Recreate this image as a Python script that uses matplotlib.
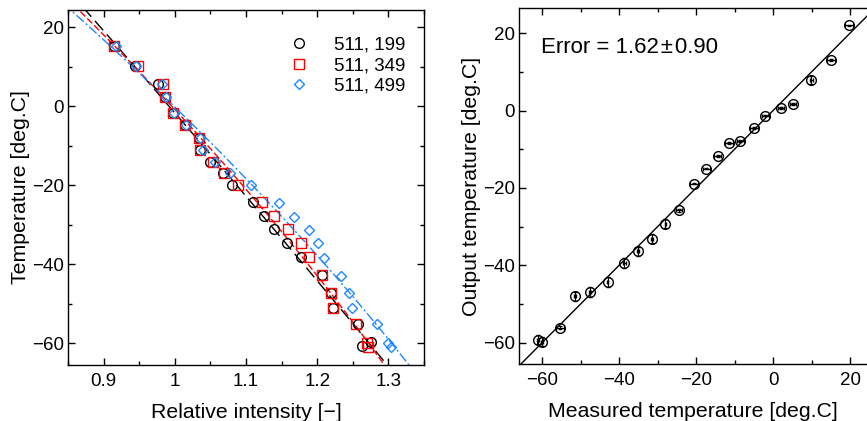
import numpy as np
import matplotlib.pyplot as plt
from matplotlib.ticker import MultipleLocator, FuncFormatter

plt.rcParams['font.family'] = ['Liberation Sans', 'DejaVu Sans']
plt.rcParams['font.size'] = 13.5

# left panel: temperature vs relative intensity
t_199 = [15.3, 10.3, 5.6, 2.3, -1.8, -4.7, -8.1, -11.1, -14.2, -17.0, -19.9,
         -24.1, -27.8, -31.1, -34.7, -38.1, -42.7, -47.3, -51.1, -55.1, -59.7, -60.6]
i_199 = [0.914, 0.944, 0.977, 0.986, 0.998, 1.015, 1.034, 1.035, 1.050, 1.067, 1.081,
         1.110, 1.125, 1.139, 1.157, 1.177, 1.207, 1.219, 1.222, 1.258, 1.275, 1.263]

t_349 = [15.3, 10.3, 5.6, 2.3, -1.8, -4.7, -8.1, -11.1, -14.2, -17.0, -19.9,
         -24.1, -27.8, -31.1, -34.7, -38.2, -42.7, -47.3, -51.1, -55.1, -60.0, -61.0]
i_349 = [0.915, 0.948, 0.983, 0.986, 0.998, 1.015, 1.034, 1.036, 1.053, 1.069, 1.089,
         1.123, 1.139, 1.159, 1.177, 1.189, 1.207, 1.219, 1.222, 1.254, 1.270, 1.271]

t_499 = [15.3, 10.3, 5.6, 2.3, -1.8, -4.7, -8.1, -11.1, -14.2, -17.0, -19.9,
         -24.4, -27.9, -31.3, -34.7, -38.5, -42.9, -47.3, -51.1, -55.1, -60.0, -61.0]
i_499 = [0.917, 0.946, 0.982, 0.987, 0.999, 1.016, 1.036, 1.039, 1.057, 1.078, 1.107,
         1.146, 1.167, 1.189, 1.201, 1.209, 1.233, 1.245, 1.249, 1.284, 1.300, 1.303]

labels = ['511, 199', '511, 349', '511, 499']

# right panel: output vs measured temperature
measured = [19.7, 15.0, 9.9, 5.2, 2.0, -2.0, -5.0, -8.5, -11.4, -14.4, -17.3, -20.5,
            -24.5, -28.0, -31.5, -35.1, -38.6, -43.0, -47.5, -51.5, -55.4, -60.0, -61.0]
output = [22.0, 13.1, 7.8, 1.7, 0.6, -1.3, -4.5, -7.8, -8.4, -11.7, -15.0, -18.9,
          -25.8, -29.2, -33.1, -36.4, -39.4, -44.3, -46.9, -48.0, -56.1, -59.7, -59.2]
x_err = [1.0, 1.0, 0.4, 0.8, 0.8, 1.0, 1.0, 1.0, 1.0, 1.0, 1.0, 1.0,
         0.8, 0.2, 0.2, 0.2, 0.3, 0.2, 0.3, 0.2, 1.0, 0.3, 0.3]
y_err = [0.2, 0.2, 1.0, 0.2, 0.2, 0.2, 0.2, 0.2, 0.2, 0.2, 0.2, 0.2,
         0.3, 1.2, 1.2, 1.2, 1.2, 1.2, 1.2, 1.2, 0.3, 1.2, 1.2]

fig = plt.figure(figsize=(8.67, 4.21), dpi=100)
ax1 = fig.add_axes([68 / 867, 56 / 421, 356 / 867, 355 / 421])
ax2 = fig.add_axes([519 / 867, 57 / 421, 348 / 867, 356 / 421])

blue = '#1E88FF'
series = [(t_199, i_199, 'black', 'o', 7, (0, (9, 4))),
          (t_349, i_349, 'red', 's', 7, (0, (5, 2))),
          (t_499, i_499, blue, 'D', 5.5, (0, (7, 2, 1.5, 2)))]
ts = np.linspace(-75, 30, 300)
for t, i, c, m, ms, ls in series:
    # fitted intensity as a function of temperature
    p = np.polyfit(t, i, 2)
    ax1.plot(np.polyval(p, ts), ts, color=c, lw=1.0, linestyle=ls)
for (t, i, c, m, ms, ls), lab in zip(series, labels):
    ax1.plot(i, t, linestyle='none', marker=m, ms=ms, mfc='none', mec=c, mew=1.0, label=lab)

ax1.set_xlim(0.85, 1.35)
ax1.set_ylim(-65.5, 24.4)
ax1.xaxis.set_major_locator(MultipleLocator(0.1))
ax1.xaxis.set_minor_locator(MultipleLocator(0.05))
ax1.xaxis.set_major_formatter(FuncFormatter(lambda v, p: '%g' % round(v, 2)))
ax1.yaxis.set_major_locator(MultipleLocator(20))
ax1.yaxis.set_minor_locator(MultipleLocator(10))
ax1.set_xlabel('Relative intensity [\u2212]', fontsize=15.3, labelpad=9)
ax1.set_ylabel('Temperature [deg.C]', fontsize=15.3, labelpad=1)
ax1.legend(loc='upper right', bbox_to_anchor=(0.97, 0.946), frameon=False,
           handletextpad=1.0, borderaxespad=0.0, labelspacing=0.17, handlelength=1.8)

ax2.plot([-70, 30], [-70, 30], color='black', lw=1.0)
ax2.errorbar(measured, output, xerr=x_err, yerr=y_err, fmt='o', ms=7, mfc='none',
             mec='black', mew=1.0, ecolor='black', elinewidth=0.8, capsize=1.5)
ax2.set_xlim(-66, 24.4)
ax2.set_ylim(-65.5, 26.5)
ax2.xaxis.set_major_locator(MultipleLocator(20))
ax2.xaxis.set_minor_locator(MultipleLocator(10))
ax2.yaxis.set_major_locator(MultipleLocator(20))
ax2.yaxis.set_minor_locator(MultipleLocator(10))
ax2.spines['right'].set_visible(False)
ax2.set_xlabel('Measured temperature [deg.C]', fontsize=15.3, labelpad=9)
ax2.set_ylabel('Output temperature [deg.C]', fontsize=15.3, labelpad=1)
ax2.text(0.063, 0.89, 'Error = 1.62\u200a\u00b1\u200a0.90', transform=ax2.transAxes,
         fontsize=16, va='center')

for ax, right in [(ax1, True), (ax2, False)]:
    ax.tick_params(which='both', direction='in', top=True, right=right, labelsize=13.5)
    ax.tick_params(axis='x', pad=6)
    ax.tick_params(axis='y', pad=3)
    ax.tick_params(which='major', length=5, width=1.0)
    ax.tick_params(which='minor', length=3, width=1.0)
    for s in ax.spines.values():
        s.set_linewidth(1.0)

plt.savefig('out.png', dpi=100)
